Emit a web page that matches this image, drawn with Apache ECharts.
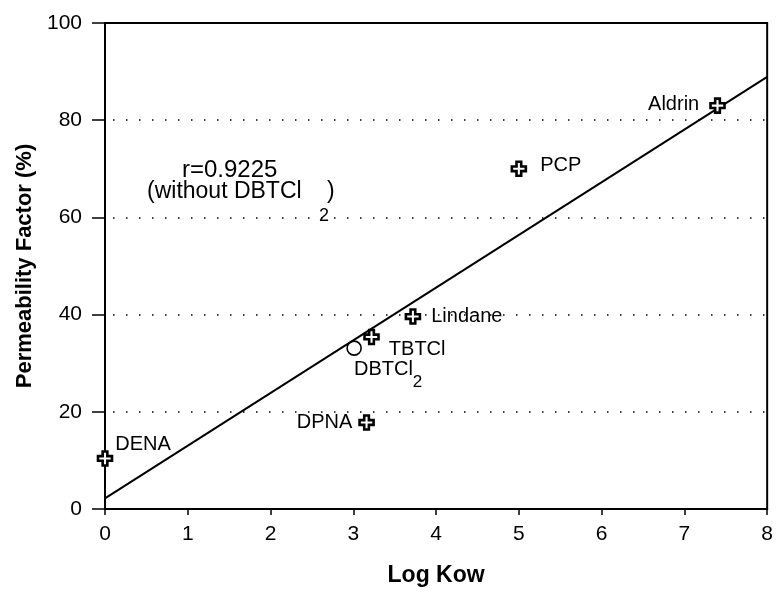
<!DOCTYPE html>
<html>
<head>
<meta charset="utf-8">
<script src="https://cdn.jsdelivr.net/npm/echarts@6/dist/echarts.min.js"></script>
<style>
html,body{margin:0;padding:0;background:#fff;}
#chart{width:776px;height:593px;}
</style>
</head>
<body>
<div id="chart"></div>
<script>
// ---- data ----
const compounds = ['DENA', 'DPNA', 'DBTCl2', 'TBTCl', 'Lindane', 'PCP', 'Aldrin'];
const logKow = [0, 3.16, 3.01, 3.22, 3.72, 5.0, 7.4];
const permeability = [10.4, 17.8, 33.1, 35.4, 39.6, 70, 83];
const fitX = [0, 8];
const fitY = [2.2, 88.9];
const xTicks = [0, 1, 2, 3, 4, 5, 6, 7, 8];
const yTicks = [0, 20, 40, 60, 80, 100];

// ---- styles ----
const FONT = "'Liberation Sans', Arial, Helvetica, sans-serif";
const plusPath = 'path://M4,0H8V4H12V8H8V12H4V8H0V4H4Z';
const labelStyle = {
  DENA:    {position: 'right', offset: [-3, -14]},
  DPNA:    {position: 'left',  offset: [-1, 0]},
  DBTCl2:  {position: 'right', offset: [-13, 27]},
  TBTCl:   {position: 'right', offset: [4, 13]},
  Lindane: {position: 'right', offset: [5, 0]},
  PCP:     {position: 'right', offset: [8, -3]},
  Aldrin:  {position: 'left',  offset: [-5, -1]}
};
const hollow = {DBTCl2: true};

const txt = {color: '#000', opacity: 1, textBorderWidth: 0, textBorderColor: 'transparent', textShadowBlur: 0, textShadowColor: 'transparent'};

const points = compounds.map((name, i) => {
  const ls = labelStyle[name];
  const isCircle = !!hollow[name];
  return {
    name: name,
    value: [logKow[i], permeability[i]],
    symbol: isCircle ? 'circle' : plusPath,
    symbolSize: 14,
    itemStyle: isCircle
      ? {color: 'rgba(255,255,255,0)', borderColor: '#000', borderWidth: 1.6, opacity: 1}
      : {color: '#fff', borderColor: '#000', borderWidth: 2.6, opacity: 1},
    label: Object.assign({
      show: true,
      position: ls.position,
      offset: ls.offset,
      formatter: name === 'DBTCl2' ? '{m|DBTCl}{sub|2}' : name,
      fontFamily: FONT,
      fontSize: 20,
      rich: {
        m: Object.assign({fontFamily: FONT, fontSize: 20, lineHeight: 20, verticalAlign: 'top'}, txt),
        sub: Object.assign({fontFamily: FONT, fontSize: 17, lineHeight: 31, verticalAlign: 'bottom'}, txt)
      }
    }, txt)
  };
});

const chart = echarts.init(document.getElementById('chart'), null, {renderer: 'canvas'});
chart.setOption({
  animation: false,
  backgroundColor: '#fff',
  grid: {left: 105, right: 8, top: 23, bottom: 84, show: true, borderColor: '#000', borderWidth: 2, backgroundColor: 'transparent'},
  xAxis: {
    type: 'value', min: xTicks[0], max: xTicks[xTicks.length - 1], interval: 1,
    name: 'Log Kow', nameLocation: 'middle', nameGap: 55,
    nameTextStyle: {fontFamily: FONT, fontSize: 23, fontWeight: 'bold', color: '#000'},
    axisLine: {show: true, onZero: false, lineStyle: {color: '#000', width: 2}},
    axisTick: {show: true, length: 6, lineStyle: {color: '#000', width: 1.5}},
    axisLabel: {fontFamily: FONT, fontSize: 21, color: '#000', margin: 15},
    splitLine: {show: false}
  },
  yAxis: {
    type: 'value', min: yTicks[0], max: yTicks[yTicks.length - 1], interval: 20,
    name: 'Permeability Factor (%)', nameLocation: 'middle', nameGap: 67,
    nameTextStyle: {fontFamily: FONT, fontSize: 22, fontWeight: 'bold', color: '#000'},
    axisLine: {show: true, onZero: false, lineStyle: {color: '#000', width: 2}},
    axisTick: {show: true, length: 13, lineStyle: {color: '#000', width: 1.5}},
    axisLabel: {fontFamily: FONT, fontSize: 21, color: '#000', margin: 23},
    splitLine: {show: true, lineStyle: {color: '#000', width: 1.5, type: [1.5, 11.5], dashOffset: -8}}
  },
  series: [
    {
      type: 'line',
      data: fitX.map((x, i) => [x, fitY[i]]),
      showSymbol: false,
      symbol: 'none',
      lineStyle: {color: '#000', width: 2},
      z: 2,
      silent: true
    },
    {
      type: 'scatter',
      data: points,
      itemStyle: {opacity: 1},
      z: 5
    }
  ],
  graphic: [
    {type: 'text', left: 182, top: 158, style: {text: 'r=0.9225', font: '24px ' + FONT, fill: '#000'}},
    {type: 'text', left: 147, top: 180, style: {text: '(without DBTCl', font: '23px ' + FONT, fill: '#000'}},
    {type: 'text', left: 327, top: 180, style: {text: ')', font: '23px ' + FONT, fill: '#000'}},
    {type: 'text', left: 319, top: 207, style: {text: '2', font: '18px ' + FONT, fill: '#000'}}
  ]
});
</script>
</body>
</html>
